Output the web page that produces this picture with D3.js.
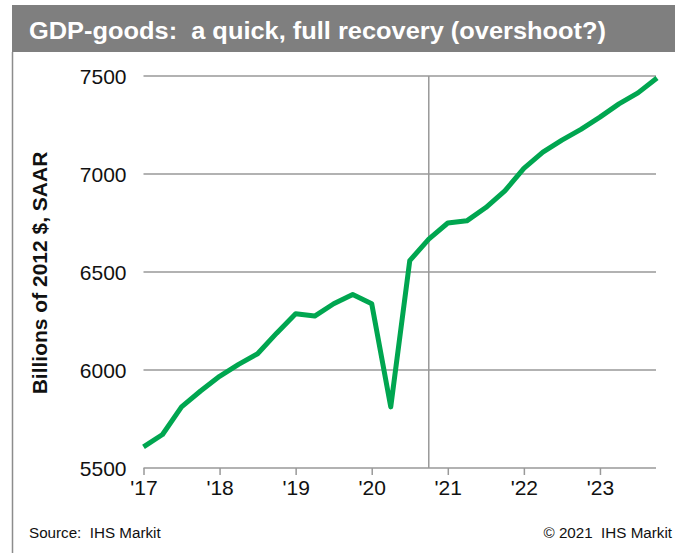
<!DOCTYPE html>
<html>
<head>
<meta charset="utf-8">
<script src="https://cdn.jsdelivr.net/npm/d3@7"></script>
<style>
  html, body { margin: 0; padding: 0; background: #fff; }
  svg { display: block; font-family: "Liberation Sans", Arial, sans-serif; }
  svg text { white-space: pre; }
</style>
</head>
<body>
<svg id="chart" width="675" height="553"></svg>
<script>
// ---- Data ----
const titleText = "GDP-goods:  a quick, full recovery (overshoot?)";
const yAxisTitle = "Billions of 2012 $, SAAR";
const sourceText = "Source:  IHS Markit";
const copyrightText = "\u00A9 2021  IHS Markit";

// quarterly observations, 2017Q1 .. 2023Q4
const quarters = [
  "2017Q1","2017Q2","2017Q3","2017Q4",
  "2018Q1","2018Q2","2018Q3","2018Q4",
  "2019Q1","2019Q2","2019Q3","2019Q4",
  "2020Q1","2020Q2","2020Q3","2020Q4",
  "2021Q1","2021Q2","2021Q3","2021Q4",
  "2022Q1","2022Q2","2022Q3","2022Q4",
  "2023Q1","2023Q2","2023Q3","2023Q4"
];
const gdpGoods = [
  5608, 5671, 5812, 5893,
  5968, 6029, 6083, 6188,
  6287, 6275, 6338, 6385,
  6338, 5812, 6558, 6668,
  6750, 6761, 6829, 6914,
  7029, 7112, 7173, 7228,
  7290, 7358, 7414, 7490
];
const yTicks = [5500, 6000, 6500, 7000, 7500];
const xTickYears = [2017, 2018, 2019, 2020, 2021, 2022, 2023];
const xTickLabels = ["'17", "'18", "'19", "'20", "'21", "'22", "'23"];
const forecastStart = "2020Q4";

// ---- Helpers ----
const qToNum = q => +q.slice(0, 4) + (+q.slice(5) - 1) / 4;
const data = quarters.map((q, i) => ({ t: qToNum(q), v: gdpGoods[i] }));

// ---- Layout ----
const svg = d3.select("#chart");
const plot = { left: 143.5, right: 657, top: 76, bottom: 468 };

const x = d3.scaleLinear().domain([2017, 2023.75]).range([plot.left, plot.right]);
const y = d3.scaleLinear().domain([5500, 7500]).range([plot.bottom, plot.top]);

const gridColor = "#999999";

// Title bar
svg.append("rect")
  .attr("x", 12).attr("y", 5)
  .attr("width", 663).attr("height", 47)
  .attr("fill", "#7f7f7f");
svg.append("text")
  .attr("x", 29).attr("y", 38.5)
  .attr("fill", "#fff")
  .attr("font-weight", "bold")
  .attr("font-size", 24)
  .attr("textLength", 577)
  .attr("lengthAdjust", "spacingAndGlyphs")
  .text(titleText);

// Left frame line
svg.append("line")
  .attr("x1", 12.5).attr("x2", 12.5)
  .attr("y1", 52).attr("y2", 553)
  .attr("stroke", "#8c8c8c").attr("stroke-width", 1.5);

// Horizontal gridlines
svg.append("g")
  .selectAll("line")
  .data(yTicks.filter(d => d !== 5500))
  .join("line")
  .attr("x1", plot.left).attr("x2", 656)
  .attr("y1", d => y(d)).attr("y2", d => y(d))
  .attr("stroke", gridColor).attr("stroke-width", 1.5);

// Forecast divider
svg.append("line")
  .attr("x1", x(qToNum(forecastStart))).attr("x2", x(qToNum(forecastStart)))
  .attr("y1", plot.top).attr("y2", plot.bottom)
  .attr("stroke", gridColor).attr("stroke-width", 1.5);

// Y axis labels
svg.append("g")
  .selectAll("text")
  .data(yTicks)
  .join("text")
  .attr("x", 126.5)
  .attr("y", d => y(d))
  .attr("dy", "0.36em")
  .attr("text-anchor", "end")
  .attr("font-size", 21)
  .attr("fill", "#111")
  .text(d => d);

// X axis
const xAxis = d3.axisBottom(x)
  .tickValues(xTickYears)
  .tickFormat((d, i) => xTickLabels[i])
  .tickSizeInner(7)
  .tickSizeOuter(0)
  .tickPadding(5);
const gx = svg.append("g")
  .attr("transform", `translate(0,${plot.bottom})`)
  .call(xAxis);
gx.select(".domain")
  .attr("d", `M${plot.left},0H656`)
  .attr("stroke", gridColor).attr("stroke-width", 1.5);
gx.selectAll(".tick line").attr("stroke", gridColor).attr("stroke-width", 1.5);
gx.selectAll(".tick text")
  .attr("font-size", 21)
  .attr("font-family", "Liberation Sans, Arial, sans-serif")
  .attr("fill", "#111");

// Y axis title
svg.append("text")
  .attr("transform", `translate(47,273) rotate(-90)`)
  .attr("text-anchor", "middle")
  .attr("font-weight", "bold")
  .attr("font-size", 21)
  .attr("fill", "#111")
  .text(yAxisTitle);

// Line
const line = d3.line().x(d => x(d.t)).y(d => y(d.v));
svg.append("path")
  .datum(data)
  .attr("d", line)
  .attr("fill", "none")
  .attr("stroke", "#00a650")
  .attr("stroke-width", 5)
  .attr("stroke-linejoin", "round");

// Footer
svg.append("text")
  .attr("x", 29).attr("y", 538)
  .attr("font-size", 15.2)
  .attr("fill", "#111")
  .text(sourceText);
svg.append("text")
  .attr("x", 672).attr("y", 538)
  .attr("text-anchor", "end")
  .attr("font-size", 15.2)
  .attr("fill", "#111")
  .text(copyrightText);
</script>
</body>
</html>
